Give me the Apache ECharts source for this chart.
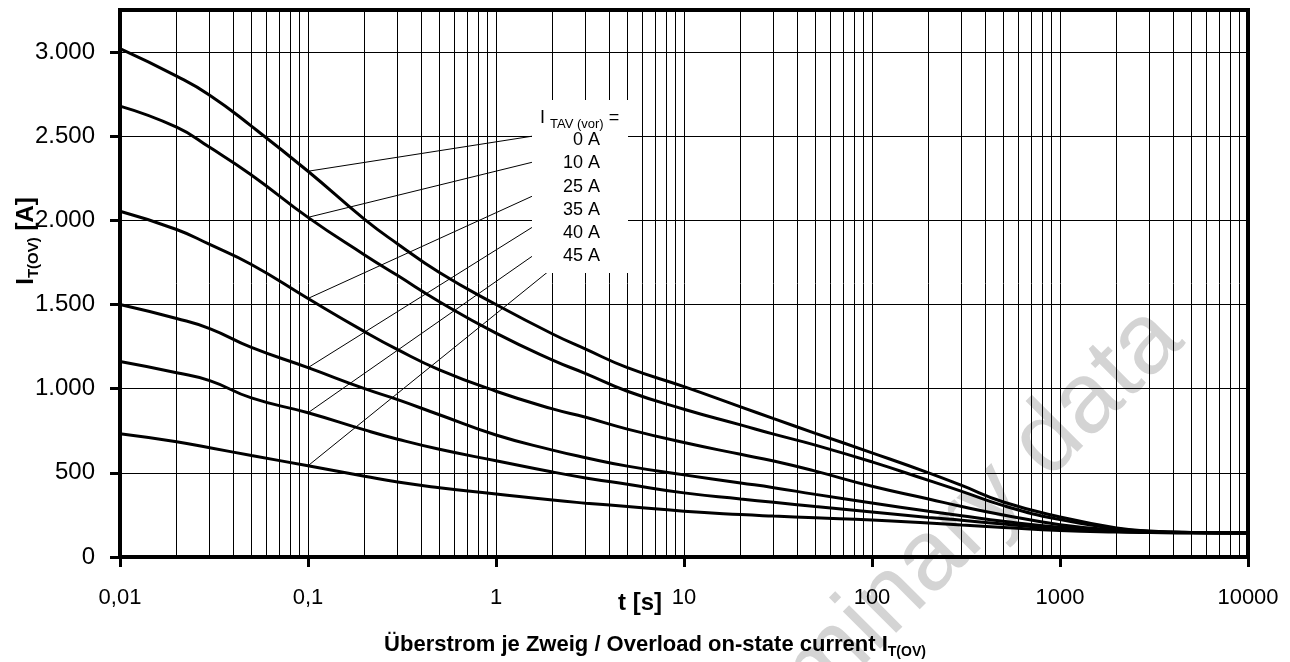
<!DOCTYPE html>
<html><head><meta charset="utf-8">
<script src="https://cdn.jsdelivr.net/npm/echarts@6/dist/echarts.min.js"></script>
<style>html,body{margin:0;padding:0;background:#fff}#c{width:1290px;height:662px}</style>
</head><body><div id="c"></div>
<script>
// ---- data ----
const times   = [0.01,0.02,0.03,0.05,0.1,0.2,0.3,0.5,1,2,3,5,10,20,30,50,100,200,300,500,1000,2000,3000,5000,10000];
const curve0A  = [3020,2857,2744,2560,2292,2006,1860,1690,1500,1325,1235,1125,1012,892,822,735,619,500,425,327,238,173,155,146,143];
const curve10A = [2679,2554,2434,2270,2018,1795,1672,1517,1330,1170,1090,985,878,785,730,665,565,455,390,305,222,168,152,146,143];
const curve25A = [2054,1946,1857,1738,1536,1339,1232,1112,985,880,830,760,680,610,570,510,420,345,300,250,192,160,150,145,143];
const curve35A = [1500,1417,1357,1245,1125,1000,935,845,725,635,590,540,488,440,412,372,321,272,245,212,177,156,149,145,143];
const curve40A = [1161,1095,1048,945,857,755,700,640,572,505,470,432,381,345,325,300,268,235,218,196,168,152,147,144,143];
const curve45A = [732,685,649,603,542,480,445,412,375,338,320,300,272,252,243,233,220,202,190,176,158,148,145,143,143];
const seriesNames = ['0 A','10 A','25 A','35 A','40 A','45 A'];
// leader lines: start at t=0.1 on each curve, end at legend box edge
const leaderStartT = [0.1,0.1,0.1,0.1,0.1,0.1];
const leaderStartV = [2292,2018,1536,1125,857,542];
const leaderEndT   = [1.553,1.553,1.553,1.553,1.553,1.867];
const leaderEndV   = [2500,2345,2143,1958,1786,1690];
const xTickLabels = ['0,01','0,1','1','10','100','1000','10000'];
const yTickValues = [0,500,1000,1500,2000,2500,3000];
const yTickLabels = ['0','500','1.000','1.500','2.000','2.500','3.000'];
const minorT = [];
for (let e=-2;e<4;e++){ for (let m=2;m<10;m++){ minorT.push(+(m*Math.pow(10,e)).toPrecision(3)); } }

// ---- chart ----
const FONT = 'Liberation Sans, Arial, Helvetica, sans-serif';
const chart = echarts.init(document.getElementById('c'), null, {renderer:'canvas'});
const curves = [curve0A,curve10A,curve25A,curve35A,curve40A,curve45A];
const series = [];
series.push({
  type:'line', name:'grid', data:[[1,null]], symbol:'none', silent:true, z:1,
  markLine:{silent:true, symbol:['none','none'], animation:false, label:{show:false},
    lineStyle:{color:'#000', width:1, type:'solid'}, emphasis:{disabled:true},
    data: minorT.map(t=>({xAxis:t}))}
});
curves.forEach((c,i)=>{
  series.push({type:'line', name:seriesNames[i], data: times.map((t,j)=>[t,c[j]]),
    symbol:'none', smooth:0.5, z:3,
    lineStyle:{color:'#000', width:3}, emphasis:{disabled:true}});
  series.push({type:'line', name:seriesNames[i]+' leader',
    data:[[leaderStartT[i],leaderStartV[i]],[leaderEndT[i],leaderEndV[i]]],
    symbol:'none', z:3, lineStyle:{color:'#000', width:1}, emphasis:{disabled:true}});
});

chart.setOption({
  animation:false,
  backgroundColor:'#fff',
  grid:{left:120, right:42, top:10, bottom:105, show:true, borderColor:'#000', borderWidth:4, backgroundColor:'transparent'},
  xAxis:{type:'log', logBase:10, min:0.01, max:10000,
    axisLine:{lineStyle:{color:'#000', width:4}},
    axisTick:{length:10, lineStyle:{color:'#000', width:3}},
    axisLabel:{fontSize:22, color:'#000', fontFamily:FONT, margin:30,
      formatter:(v)=>xTickLabels[Math.round(Math.log10(v))+2]},
    splitLine:{show:true, lineStyle:{color:'#000', width:1}},
    minorTick:{show:false}},
  yAxis:{type:'value', min:0, max:3250, interval:250,
    axisLine:{show:true, lineStyle:{color:'#000', width:4}},
    axisTick:{show:true, length:10, customValues:yTickValues, lineStyle:{color:'#000', width:3}},
    axisLabel:{fontSize:24, color:'#000', fontFamily:FONT, margin:25, customValues:yTickValues,
      formatter:(v)=>yTickLabels[yTickValues.indexOf(v)]},
    splitLine:{show:true, lineStyle:{color:'#000', width:1}}},
  series: series,
  graphic:[
    {type:'text', z:-10, x:915, y:575, rotation:Math.PI/4, silent:true,
      style:{text:'preliminary data', fill:'#d4d4d4', font:'100px '+FONT, align:'center', verticalAlign:'middle'}},
    {type:'rect', z:100, shape:{x:532, y:100, width:96, height:173}, style:{fill:'#fff'}},
    {type:'text', z:101, x:540, y:118, style:{
      text:'{a|I }{b|TAV (vor)}{a| =}', verticalAlign:'middle', align:'left',
      rich:{a:{font:'18px '+FONT, fill:'#000', lineHeight:26, verticalAlign:'middle'},
            b:{font:'13px '+FONT, fill:'#000', lineHeight:14, verticalAlign:'bottom'}}}},
    ...seriesNames.map((n,i)=>({type:'text', z:101, x:600, y:140+i*23.3,
      style:{text:n, font:'18px '+FONT, fill:'#000', align:'right', verticalAlign:'middle'}})),
    {type:'text', z:100, x:26, y:241, rotation:Math.PI/2, style:{
      text:'{a|I}{b|T(OV)}{a| [A]}', align:'center', verticalAlign:'middle',
      rich:{a:{font:'bold 24px '+FONT, fill:'#000', lineHeight:30, verticalAlign:'middle'},
            b:{font:'bold 15px '+FONT, fill:'#000', lineHeight:16, verticalAlign:'bottom'}}}},
    {type:'text', z:100, x:640, y:603, style:{text:'t [s]', font:'bold 24px '+FONT, fill:'#000', align:'center', verticalAlign:'middle'}},
    {type:'text', z:100, x:655, y:645, style:{
      text:'{a|Überstrom je Zweig / Overload on-state current I}{b|T(OV)}', align:'center', verticalAlign:'middle',
      rich:{a:{font:'bold 22px '+FONT, fill:'#000', lineHeight:28, verticalAlign:'middle'},
            b:{font:'bold 14px '+FONT, fill:'#000', lineHeight:14, verticalAlign:'bottom'}}}}
  ]
});
</script></body></html>
